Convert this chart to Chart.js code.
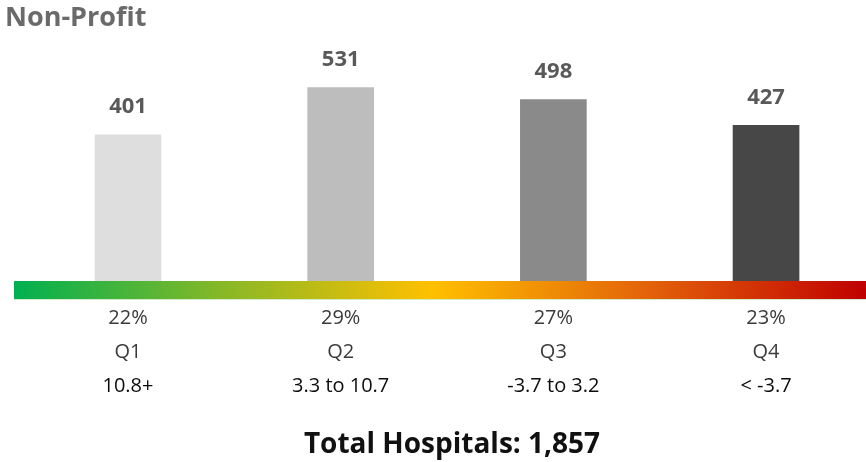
<!DOCTYPE html>
<html><head><meta charset="utf-8">
<script src="https://cdn.jsdelivr.net/npm/chart.js@4/dist/chart.umd.min.js"></script>
<style>html,body{margin:0;padding:0;background:#fff;}#wrap{width:866px;height:462px;}</style>
</head><body><div id="wrap"><canvas id="c" width="866" height="462"></canvas></div>
<script>
const quartiles = ["Q1", "Q2", "Q3", "Q4"];
const counts = [401, 531, 498, 427];
const shares = ["22%", "29%", "27%", "23%"];
const ranges = ["10.8+", "3.3 to 10.7", "-3.7 to 3.2", "< -3.7"];
const barColors = ["#dedede", "#bdbdbd", "#8a8a8a", "#474747"];
const title = "Non-Profit";
const footer = "Total Hospitals: 1,857";

const FONT = "'Open Sans', 'Noto Sans', sans-serif";

const drawPlugin = {
  id: 'custom',
  beforeDatasetsDraw(chart) {
    const ctx = chart.ctx, a = chart.chartArea;
    const g = ctx.createLinearGradient(a.left, 0, a.right, 0);
    g.addColorStop(0, '#00b050');
    g.addColorStop(0.25, '#8ab826');
    g.addColorStop(0.49, '#ffc000');
    g.addColorStop(0.75, '#e2600a');
    g.addColorStop(1, '#c00000');
    ctx.save();
    ctx.fillStyle = g;
    ctx.fillRect(a.left, a.bottom, a.right - a.left, 18);
    ctx.fillStyle = 'rgba(200,230,190,0.8)';
    ctx.fillRect(a.left, a.bottom + 18, a.right - a.left, 1);
    ctx.restore();
  },
  afterDraw(chart) {
    const ctx = chart.ctx;
    const meta = chart.getDatasetMeta(0);
    const xs = chart.scales.x;
    ctx.save();
    ctx.textAlign = 'center';
    ctx.textBaseline = 'middle';
    meta.data.forEach((bar, i) => {
      ctx.font = "bold 22px " + FONT;
      ctx.fillStyle = '#595959';
      ctx.fillText(String(counts[i]), bar.x, bar.y - 28);
      const x = xs.getPixelForValue(i);
      ctx.font = "20px " + FONT;
      ctx.fillStyle = '#3a3a3a';
      ctx.fillText(shares[i], x, 318);
      ctx.fillText(quartiles[i], x, 352);
      ctx.fillStyle = '#0d0d0d';
      ctx.fillText(ranges[i], x, 386);
    });
    ctx.textAlign = 'left';
    ctx.font = "bold 27px " + FONT;
    ctx.fillStyle = '#6a6a6a';
    ctx.fillText(title, 5, 18);
    ctx.textAlign = 'center';
    ctx.font = "bold 28px " + FONT;
    ctx.fillStyle = '#111111';
    ctx.fillText(footer, 452, 445);
    ctx.restore();
  }
};

new Chart(document.getElementById('c'), {
  type: 'bar',
  data: {
    datasets: [{
      data: counts.map((v, i) => ({x: i, y: v})),
      backgroundColor: barColors,
      barThickness: 66,
      borderWidth: 0
    }]
  },
  options: {
    responsive: false,
    animation: false,
    events: [],
    layout: {padding: {top: 26, bottom: 181, left: 14, right: 0}},
    plugins: {legend: {display: false}, tooltip: {enabled: false}},
    scales: {
      x: {type: 'linear', display: false, offset: false, min: -0.536, max: 3.47},
      y: {display: false, min: 0, max: 700}
    }
  },
  plugins: [drawPlugin]
});
</script></body></html>
